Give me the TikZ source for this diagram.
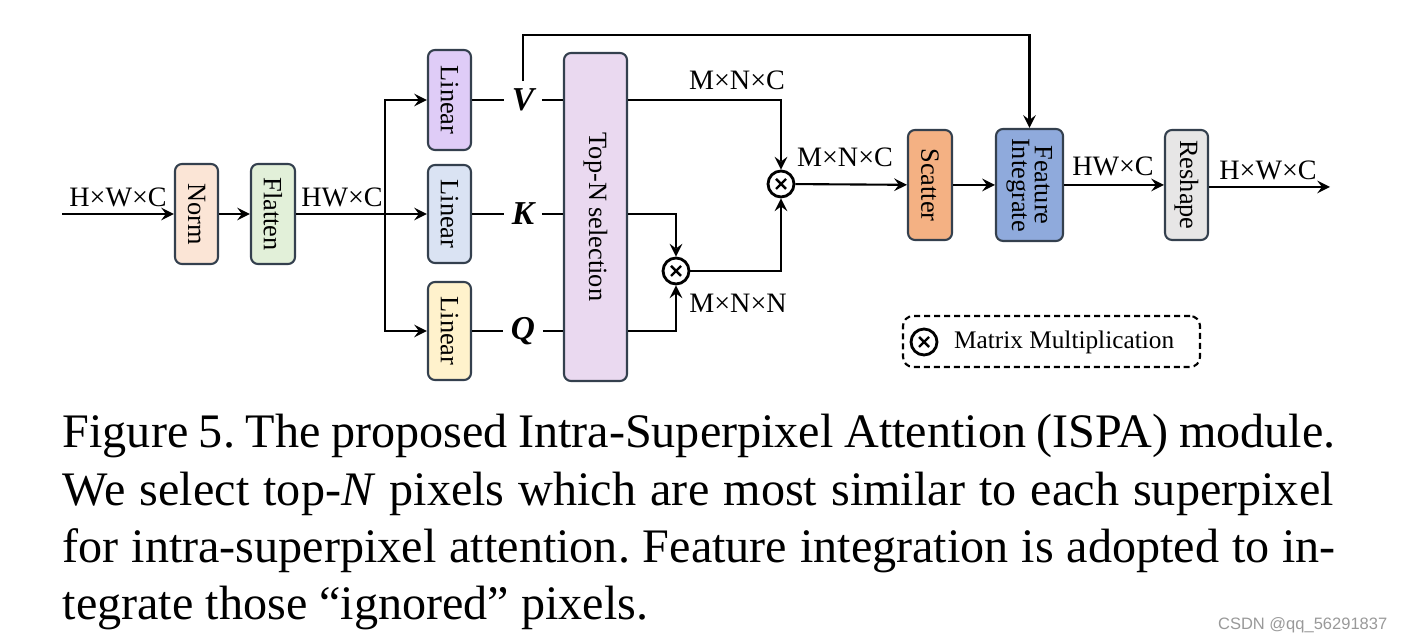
\documentclass[tikz,border=0pt]{standalone}
\usepackage{graphicx}
\usepackage{fontspec}
\setmainfont{Liberation Serif}
\newfontfamily\marksans{Liberation Sans}
\usepackage{tikz}
\usetikzlibrary{shapes.geometric, arrows, positioning, calc}
\frenchspacing

\definecolor{blkline}{HTML}{34404E}
\definecolor{normfill}{HTML}{FBE5D6}
\definecolor{flatfill}{HTML}{E2F0D9}
\definecolor{linvfill}{HTML}{DFCCF7}
\definecolor{linkfill}{HTML}{DAE3F3}
\definecolor{linqfill}{HTML}{FFF2CC}
\definecolor{topnfill}{HTML}{EAD9F0}
\definecolor{scatfill}{HTML}{F4B183}
\definecolor{featfill}{HTML}{8FAADC}
\definecolor{reshfill}{HTML}{E7E6E6}

\begin{document}
\begin{tikzpicture}[
        every node/.style={font=\fontsize{8}{9}\selectfont},
        blk/.style={draw=blkline, line width=0.6pt, rounded corners=0.07cm, minimum width=0.43cm, minimum height=1.0cm, inner sep=0pt, font=\fontsize{7.5}{8.5}\selectfont},
        arrow/.style={line width=0.6pt,->,>=stealth},
        wire/.style={line width=0.6pt},
        dimlbl/.style={inner sep=1pt},
        qkv/.style={inner sep=2pt, font=\fontsize{9.5}{10}\selectfont\bfseries\itshape},
        mul/.style={circle, draw, line width=0.8pt, minimum size=0.26cm, inner sep=0pt,
          path picture={\draw[line width=0.7pt]
            ($(path picture bounding box.center)+(-0.05,-0.05)$) -- ($(path picture bounding box.center)+(0.05,0.05)$)
            ($(path picture bounding box.center)+(-0.05,0.05)$) -- ($(path picture bounding box.center)+(0.05,-0.05)$);}}
      ]
        \useasboundingbox (0,0) rectangle (14.04,6.42);

        % Input Section
        \coordinate (in_start) at (0.62,4.28);
        \node (norm) [blk, fill=normfill] at (1.965,4.28) {\rotatebox{-90}{Norm}};
        \node (flatten) [blk, fill=flatfill, minimum width=0.44cm] at (2.73,4.28) {\rotatebox{-90}{Flatten}};
        \coordinate (split) at (3.85,4.28);

        % Linear Projections
        \node (lin_v) [blk, fill=linvfill] at (4.495,5.42) {\rotatebox{-90}{Linear}};
        \node (lin_k) [blk, fill=linkfill, minimum height=0.98cm] at (4.495,4.28) {\rotatebox{-90}{Linear}};
        \node (lin_q) [blk, fill=linqfill, minimum height=0.98cm] at (4.495,3.11) {\rotatebox{-90}{Linear}};

        \node (v_lbl) [qkv] at (5.23,5.42) {V};
        \node (k_lbl) [qkv] at (5.23,4.28) {K};
        \node (q_lbl) [qkv] at (5.23,3.11) {Q};

        \node (topn) [blk, fill=topnfill, minimum width=0.63cm, minimum height=3.28cm] at (5.955,4.25) {\rotatebox{-90}{Top-N selection}};

        % Multiplications
        \node (mul_out) [mul] at (7.81,4.58) {};
        \node (mul_qk) [mul] at (6.76,3.71) {};

        % Output Section
        \node (scatter) [blk, fill=scatfill, minimum width=0.44cm, minimum height=1.1cm] at (9.30,4.57) {\rotatebox{-90}{Scatter}};
        \node (feat_int) [blk, fill=featfill, minimum width=0.67cm, minimum height=1.12cm] at (10.295,4.57)
          {\rotatebox{-90}{\begin{tabular}{@{}c@{}}Feature\\[-2pt]Integrate\end{tabular}}};
        \node (reshape) [blk, fill=reshfill, minimum height=1.1cm] at (11.865,4.57) {\rotatebox{-90}{Reshape}};
        \coordinate (out_end) at (13.30,4.55);
        \coordinate (skip_top) at (5.23,6.07);

        % Arrows
        \draw [arrow] (in_start) -- (norm);
        \draw [arrow] (norm) -- (flatten);
        \draw [wire] (flatten) -- (split);
        \draw [arrow] (split) |- (lin_v);
        \draw [arrow] (split) -- (lin_k);
        \draw [arrow] (split) |- (lin_q);
        \draw [wire] (lin_v) -- (v_lbl);
        \draw [wire] (lin_k) -- (k_lbl);
        \draw [wire] (lin_q) -- (q_lbl);
        \draw [wire] (v_lbl) -- (v_lbl -| topn.west);
        \draw [wire] (k_lbl) -- (k_lbl -| topn.west);
        \draw [wire] (q_lbl) -- (q_lbl -| topn.west);
        \draw [arrow] (v_lbl.north) -- (skip_top) -| (feat_int.north);
        \draw [arrow] (topn.east |- v_lbl) -| (mul_out.north);
        \draw [arrow] (topn.east |- k_lbl) -| (mul_qk.north);
        \draw [arrow] (topn.east |- q_lbl) -| (mul_qk.south);
        \draw [arrow] (mul_qk.east) -| (mul_out.south);
        \draw [arrow] (mul_out) -- (scatter);
        \draw [arrow] (scatter) -- (feat_int);
        \draw [arrow] (feat_int) -- (reshape);
        \draw [arrow] (reshape.east |- out_end) -- (out_end);

        % Labels
        \node (dim_in) [dimlbl] at (1.18,4.45) {H×W×C};
        \node (dim_flat) [dimlbl] at (3.42,4.45) {HW×C};
        \node (dim_v) [dimlbl] at (7.37,5.62) {M×N×C};
        \node (dim_mul) [dimlbl] at (8.45,4.85) {M×N×C};
        \node (dim_qk) [dimlbl] at (7.38,3.39) {M×N×N};
        \node (dim_feat) [dimlbl] at (11.13,4.76) {HW×C};
        \node (dim_out) [dimlbl] at (12.68,4.72) {H×W×C};

        % Legend
        \node (legend) [draw, line width=0.6pt, dash pattern=on 0.06cm off 0.04cm, rounded corners=0.1cm, minimum width=2.97cm, minimum height=0.51cm] at (10.515,3.005) {};
        \node (legend_mul) [mul] at (9.24,3.00) {};
        \node (legend_txt) [right=0.15cm of legend_mul, inner sep=0pt, font=\fontsize{7.2}{9}\selectfont] {Matrix Multiplication};

        % Caption
        \node (cap1) [anchor=base west, inner sep=0pt, font=\fontsize{13.7}{16}\selectfont] at (0.62,1.94)
          {\makebox[12.73cm][s]{Figure 5. The proposed Intra-Superpixel Attention (ISPA) module.}};
        \node (cap2) [anchor=base west, inner sep=0pt, font=\fontsize{13.7}{16}\selectfont] at (0.62,1.36)
          {\makebox[12.71cm][s]{We select top-\textit{N} pixels which are most similar to each superpixel}};
        \node (cap3) [anchor=base west, inner sep=0pt, font=\fontsize{13.7}{16}\selectfont] at (0.62,0.79)
          {\makebox[12.73cm][s]{for intra-superpixel attention. Feature integration is adopted to in-}};
        \node (cap4) [anchor=base west, inner sep=0pt, font=\fontsize{13.7}{16}\selectfont] at (0.62,0.22)
          {tegrate those “ignored” pixels.};
        \node (mark) [anchor=base east, inner sep=0pt, text=black!40, font=\marksans\fontsize{4.7}{5}\selectfont] at (13.88,0.12) {CSDN @qq\_56291837};
      \end{tikzpicture}
\end{document}
